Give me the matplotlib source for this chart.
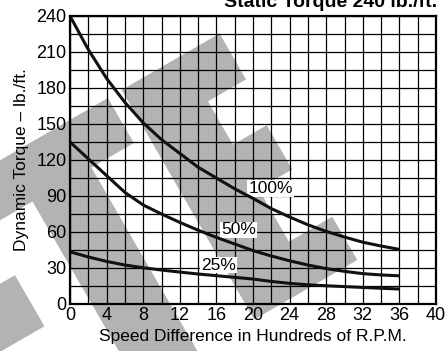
import numpy as np
import matplotlib
matplotlib.use('Agg')
import matplotlib.pyplot as plt
from matplotlib.patches import Polygon

plt.rcParams['font.family'] = ['Liberation Sans', 'DejaVu Sans']

# speed difference (hundreds of rpm) and dynamic torque for each slip level
speed = [0, 2, 4, 6, 8, 10, 12, 14, 16, 18, 20, 22, 24, 26, 28, 30, 32, 34, 36]
torque_100 = [240, 212, 188, 168, 151, 137, 125.5, 114, 105, 96, 88, 79.5, 72.5, 66, 60.5, 55.8, 51.5, 48.3, 45.5]
torque_50 = [135, 121, 107, 93, 82.5, 75, 68, 61.5, 55.5, 50, 44.5, 40, 36, 32.5, 29.5, 27.2, 25.3, 24.2, 23.5]
torque_25 = [43.5, 39.2, 35.5, 32.5, 30.2, 28.3, 26.6, 25, 23.6, 22.2, 20.8, 18.8, 17.2, 16, 15.2, 14.5, 13.8, 13.1, 12.5]

curve_labels = ['100%', '50%', '25%']
label_pos = [(21.9, 96.5), (18.4, 61.7), (16.2, 32.5)]

x_ticks = list(range(0, 41, 4))
y_ticks = list(range(0, 241, 30))

W, H = 445, 351
fig = plt.figure(figsize=(W / 100, H / 100), dpi=100)
ax = fig.add_axes([70 / W, 1 - 304 / H, 366 / W, 288 / H])
ax.set_facecolor('none')

# grey watermark letters behind the grid (pixel geometry, rotated 30 deg)
ang = np.deg2rad(30)
u_dir = np.array([np.cos(ang), -np.sin(ang)])
v_dir = np.array([np.sin(ang), np.cos(ang)])
origin = np.array([121.7, 90.0])
shapes = [
    # E
    [(0, 0), (113, 0), (113, 53), (69, 53), (69, 103), (108, 103), (108, 154),
     (69, 154), (69, 215), (119, 215), (119, 265), (0, 265)],
    # T crossbar + stem
    [(-200, 0), (-16, 0), (-16, 52), (-65, 52), (-65, 320), (-133, 320),
     (-133, 52), (-200, 52)],
    # arm of the letter further left
    [(-330, 107), (-185, 107), (-185, 166), (-330, 166)],
]
for uv in shapes:
    uv = np.array(uv, dtype=float)
    pts = origin + uv[:, :1] * u_dir + uv[:, 1:] * v_dir
    fig_pts = np.column_stack([pts[:, 0] / W, 1 - pts[:, 1] / H])
    fig.add_artist(Polygon(fig_pts, closed=True, transform=fig.transFigure,
                           facecolor='#b3b3b3', edgecolor='none', zorder=-1))

for t in [torque_100, torque_50, torque_25]:
    ax.plot(speed, t, color='#111111', linewidth=2.2, solid_capstyle='butt',
            solid_joinstyle='round', zorder=4)

for lab, (lx, ly) in zip(curve_labels, label_pos):
    ax.text(lx, ly, lab, ha='center', va='center', fontsize=12.5, zorder=3,
            bbox=dict(facecolor='white', edgecolor='none', pad=0.6))

ax.set_xlim(0, 40)
ax.set_ylim(0, 240)
ax.set_xticks(x_ticks)
ax.set_xticks(range(0, 41, 2), minor=True)
ax.set_yticks(y_ticks)
ax.set_yticks(range(0, 241, 15), minor=True)
ax.tick_params(which='both', length=0, labelsize=13)
ax.tick_params(axis='x', pad=2)
ax.tick_params(axis='y', pad=2.5)
ax.grid(which='both', color='black', linewidth=0.9)
for s in ax.spines.values():
    s.set_linewidth(1.6)
    s.set_zorder(5)

ax.set_xlabel('Speed Difference in Hundreds of R.P.M.', fontsize=12.5, labelpad=4)
ax.set_ylabel('Dynamic Torque – lb./ft.', fontsize=12.5, labelpad=5)
fig.text(437 / W, 1 - 7 / H, 'Static Torque 240 lb./ft.', ha='right', va='baseline',
         fontsize=14, fontweight='bold')

fig.savefig('out.png', dpi=100)
